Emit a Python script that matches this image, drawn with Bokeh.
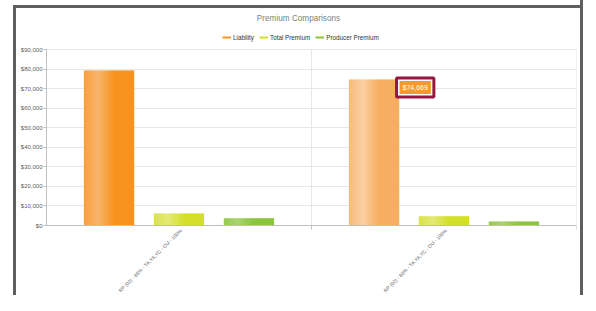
import math
from bokeh.plotting import figure
from bokeh.models import (ColumnDataSource, FactorRange, Range1d, NumeralTickFormatter,
                          Span, Label, Legend, LegendItem, FixedTicker)
from bokeh.transform import dodge
from bokeh.core.properties import value
from bokeh.embed import file_html
from bokeh.resources import INLINE

# ---- data ----
categories = ["RP (02) - 85% - TA,YA,YC - OU - 100%",
              "RP (02) - 80% - TA,YA,YC - OU - 100%"]
liability = [79300, 74669]
total_premium = [6100, 4750]
producer_premium = [3700, 2050]
series_names = ["Liability", "Total Premium", "Producer Premium"]
y_ticks = [0, 10000, 20000, 30000, 40000, 50000, 60000, 70000, 80000, 90000]
hover_index = 1  # highlighted bar (tooltip)
chart_title = "Premium Comparisons"

FONT = "Liberation Sans"

# ---- layout (pixels) ----
FIG_W, FIG_H = 580, 295
FRAME_L, FRAME_R = 46, 576        # plot area left / right
PY_TOP, PY_ZERO = 49, 225         # pixel row of top tick and of zero
y_per_px = y_ticks[-1] / (PY_ZERO - PY_TOP)
x_per_px = len(categories) / (FRAME_R - FRAME_L)


def xd(px):
    return (px - FRAME_L) * x_per_px


def yd(py):
    return (PY_ZERO - py) * y_per_px


# ---- styles ----
legend_colors = ["#F7931E", "#D4DF2C", "#8DC540"]
bar_colors = {
    "liability": [("#F7931E", "#F8B56C"), ("#F7AE60", "#FAD0A2")],
    "total": [("#D4DF2C", "#E3E977"), ("#D4DF2C", "#E3E977")],
    "producer": [("#8BC43F", "#AAD470"), ("#8BC43F", "#AAD470")],
}
offsets = [-0.264, 0.0, 0.264]
bar_w = 0.19
N = 20
GRID = "#e6e6e6"
AXIS = "#c0c0c0"
BORDER = "#5f5f5f"


def hex2rgb(h):
    h = h.lstrip("#")
    return tuple(int(h[i:i + 2], 16) for i in (0, 2, 4))


def mix(c1, c2, t):
    a, b = hex2rgb(c1), hex2rgb(c2)
    return "#%02x%02x%02x" % tuple(int(round(a[i] + (b[i] - a[i]) * t)) for i in range(3))


def light_amount(t):
    if t < 0.27:
        return 0.35 + 0.65 * t / 0.27
    return max(0.0, 1 - (t - 0.27) / 0.33)


data = dict(cat=categories, liability=liability, total=total_premium, producer=producer_premium)
for key in ["liability", "total", "producer"]:
    for k in range(N):
        t = (k + 0.5) / N
        data[f"{key}_c{k}"] = [mix(b, l, light_amount(t)) for (b, l) in bar_colors[key]]
source = ColumnDataSource(data)

p = figure(width=FIG_W, height=FIG_H, x_range=FactorRange(factors=categories),
           y_range=Range1d(yd(FIG_H), yd(0)), x_axis_location=None,
           output_backend="svg", toolbar_location=None,
           min_border_left=FRAME_L, min_border_right=FIG_W - FRAME_R,
           min_border_top=0, min_border_bottom=0)
p.styles = {"background-color": "white",
            "box-shadow": f"inset 13px 0 0 0 #ffffff, inset 0 5px 0 0 #ffffff, "
                          f"inset 16px 0 0 0 {BORDER}, inset 0 8px 0 0 {BORDER}, "
                          f"3px 0 0 0 {BORDER}"}
p.background_fill_alpha = 0
p.border_fill_alpha = 0
p.outline_line_color = None
p.xgrid.visible = False

# grid
p.ygrid.ticker = FixedTicker(ticks=y_ticks)
p.ygrid.grid_line_color = GRID
n_cat = len(categories)
bounds_x = list(range(1, n_cat + 1))
p.segment(x0=bounds_x, x1=bounds_x, y0=[0] * n_cat, y1=[y_ticks[-1]] * n_cat,
          line_color=GRID, line_width=1)

# bars drawn as gradient strips
sw = bar_w / N
overlap = 0.004
for key, off in zip(["liability", "total", "producer"], offsets):
    for k in range(N):
        left = off - bar_w / 2 + k * sw
        right = left + sw + (overlap if k < N - 1 else 0)
        p.vbar(x=dodge("cat", (left + right) / 2, range=p.x_range), top=key,
               width=right - left, bottom=0,
               source=source, fill_color=f"{key}_c{k}", line_color=None)

# x axis line, boundary ticks and category labels
p.add_layout(Span(location=0, dimension="width", line_color=AXIS, line_width=1))
p.segment(x0=bounds_x, x1=bounds_x, y0=[0] * n_cat, y1=[-4 * y_per_px] * n_cat,
          line_color=AXIS, line_width=1)
p.text(x="cat", y=0, text="cat", source=source, angle=math.pi / 4,
       text_align="right", text_baseline="middle", x_offset=2, y_offset=4,
       text_font=value(FONT), text_font_size="5px", text_color="#606060")

# legend (line glyphs; legend-only renderers that draw nothing)
nan = float("nan")
renderers = [p.line(x=categories, y=[nan] * n_cat, line_color=c, line_width=2)
             for c in legend_colors]
legend = Legend(items=[LegendItem(label=n, renderers=[r]) for n, r in zip(series_names, renderers)],
                orientation="horizontal", location=(222 - FRAME_L, FIG_H - 41),
                label_text_font_size="6.3px", label_text_font=FONT, label_text_color="#333333",
                glyph_width=9, glyph_height=8, label_height=8, label_standoff=2, spacing=5,
                padding=0, margin=0, border_line_color=None, background_fill_alpha=0)
p.add_layout(legend)

# title
p.add_layout(Label(x=xd(298), y=yd(18), text=chart_title, text_align="center",
                   text_baseline="middle", text_font=FONT, text_font_size="8.2px",
                   text_color="#808080"))

# y axis
p.yaxis.ticker = FixedTicker(ticks=y_ticks)
p.yaxis.bounds = (y_ticks[0], y_ticks[-1])
p.yaxis.formatter = NumeralTickFormatter(format="$0,0")
p.yaxis.major_label_text_font = FONT
p.yaxis.major_label_text_font_size = "6px"
p.yaxis.major_label_text_color = "#606060"
p.yaxis.axis_line_color = AXIS
p.yaxis.major_tick_line_color = AXIS
p.yaxis.major_tick_out = 3
p.yaxis.major_tick_in = 0
p.yaxis.minor_tick_line_color = None
p.yaxis.major_label_standoff = 1

# tooltip
tip_x = 1.5 + offsets[0] + bar_w / 2
tip_text = "${:,}".format(liability[hover_index])
p.add_layout(Label(x=tip_x, y=liability[hover_index], x_offset=16, y_offset=-8, text=tip_text,
                   text_align="center", text_baseline="middle", text_font=FONT,
                   text_font_size="7px", text_color="white", padding=6,
                   background_fill_color="white", border_line_color="#96173D",
                   border_line_width=3))
p.add_layout(Label(x=tip_x, y=liability[hover_index], x_offset=16, y_offset=-8, text=tip_text,
                   text_align="center", text_baseline="middle", text_font=FONT,
                   text_font_size="7px", text_color="white", padding=3,
                   background_fill_color="#F59A2C", border_line_color=None))

open("out.html", "w").write(file_html(p, INLINE))
